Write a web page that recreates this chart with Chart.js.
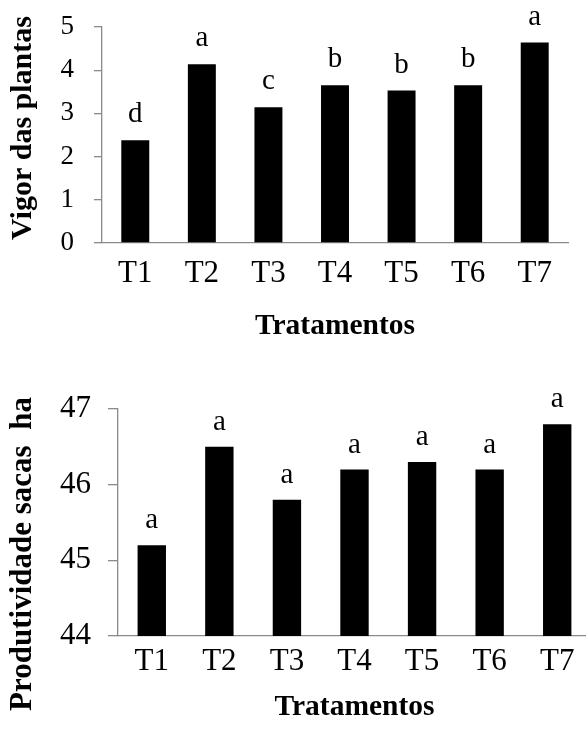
<!DOCTYPE html>
<html>
<head>
<meta charset="utf-8">
<script src="https://cdn.jsdelivr.net/npm/chart.js@4"></script>
<style>
	html, body { margin: 0; padding: 0; background: #fff; overflow: hidden; }
	.box { position: absolute; left: 0; }
</style>
</head>
<body>
<div class="box" style="top:0px"><canvas id="vigor" width="586" height="360"></canvas></div>
<div class="box" style="top:380px"><canvas id="yield" width="600" height="351"></canvas></div>
<script>
const treatments = ["T1", "T2", "T3", "T4", "T5", "T6", "T7"];
const vigor = [2.38, 4.14, 3.14, 3.65, 3.53, 3.65, 4.64];
const vigorLetters = ["d", "a", "c", "b", "b", "b", "a"];
const yieldValues = [45.2, 46.5, 45.8, 46.2, 46.3, 46.2, 46.8];
const yieldLetters = ["a", "a", "a", "a", "a", "a", "a"];

const SERIF = "'Liberation Serif', 'Times New Roman', serif";
const AXIS = "#8a8a8a";

// letters of the mean test, drawn above each bar
const letterPlugin = {
	id: "letters",
	afterDatasetsDraw(chart, args, opts) {
		let ctx = chart.ctx;
		let meta = chart.getDatasetMeta(0);
		ctx.save();
		ctx.font = "29px " + SERIF;
		ctx.fillStyle = "#000";
		ctx.textAlign = "center";
		ctx.textBaseline = "alphabetic";
		meta.data.forEach((bar, i) => {
			ctx.fillText(opts.letters[i], bar.x, bar.y - opts.gap);
		});
		ctx.restore();
	}
};

// y title, placed where the original figure has it (not centred on the scale)
const sideTitle = {
	id: "sideTitle",
	afterDraw(chart, args, opts) {
		if (!opts.text) return;
		let ctx = chart.ctx;
		ctx.save();
		ctx.translate(opts.x, opts.y);
		ctx.rotate(-Math.PI / 2);
		ctx.font = "bold " + opts.size + "px " + SERIF;
		ctx.fillStyle = "#000";
		ctx.textAlign = "center";
		ctx.textBaseline = "middle";
		ctx.fillText(opts.text, 0, 0);
		ctx.restore();
	}
};

function barChart(id, values, letters, s) {
	return new Chart(document.getElementById(id), {
		type: "bar",
		data: {
			labels: treatments,
			datasets: [{
				data: values,
				backgroundColor: "#000",
				borderWidth: 0,
				barPercentage: 0.42,
				categoryPercentage: 1
			}]
		},
		options: {
			responsive: false,
			animation: false,
			layout: { padding: { top: s.top, right: s.right, left: 0, bottom: 0 } },
			plugins: {
				legend: { display: false },
				tooltip: { enabled: false },
				letters: { letters: letters, gap: s.gap },
				sideTitle: s.sideTitle
			},
			scales: {
				x: {
					afterFit: (scale) => { scale.height = s.xHeight; },
					grid: { drawOnChartArea: false, drawTicks: false },
					border: { color: AXIS, width: 1.3 },
					ticks: { color: "#000", padding: s.xPad, font: { family: SERIF, size: 31 } },
					title: {
						display: true,
						text: "Tratamentos",
						color: "#000",
						padding: { top: 0, bottom: s.titlePad },
						font: { family: SERIF, size: 29.5, weight: "bold" }
					}
				},
				y: {
					min: s.min,
					max: s.max,
					afterFit: (scale) => {
						scale.width = s.yWidth;
						scale.paddingTop = 0;
						scale.paddingBottom = 0;
					},
					grid: { drawOnChartArea: false, drawTicks: true, tickLength: s.tickLength, color: AXIS, lineWidth: 1.3 },
					border: { color: AXIS, width: 1.3 },
					ticks: { stepSize: 1, color: "#000", padding: s.tickPad, font: { family: SERIF, size: s.tickSize } }
				}
			}
		},
		plugins: [letterPlugin, sideTitle]
	});
}

barChart("vigor", vigor, vigorLetters, {
	top: 27, right: 18, gap: 18,
	xHeight: 117, xPad: 12, titlePad: 16,
	min: 0, max: 5, yWidth: 102, tickLength: 8, tickPad: 20, tickSize: 27,
	sideTitle: { text: "Vigor das plantas", x: 23, y: 128, size: 30 }
});

barChart("yield", yieldValues, yieldLetters, {
	top: 29, right: 9, gap: 17,
	xHeight: 95, xPad: 7, titlePad: 6,
	min: 44, max: 47, yWidth: 118, tickLength: 10, tickPad: 17, tickSize: 31,
	sideTitle: { text: "Produtividade sacas  ha", x: 23, y: 174, size: 31 }
});
</script>
</body>
</html>
